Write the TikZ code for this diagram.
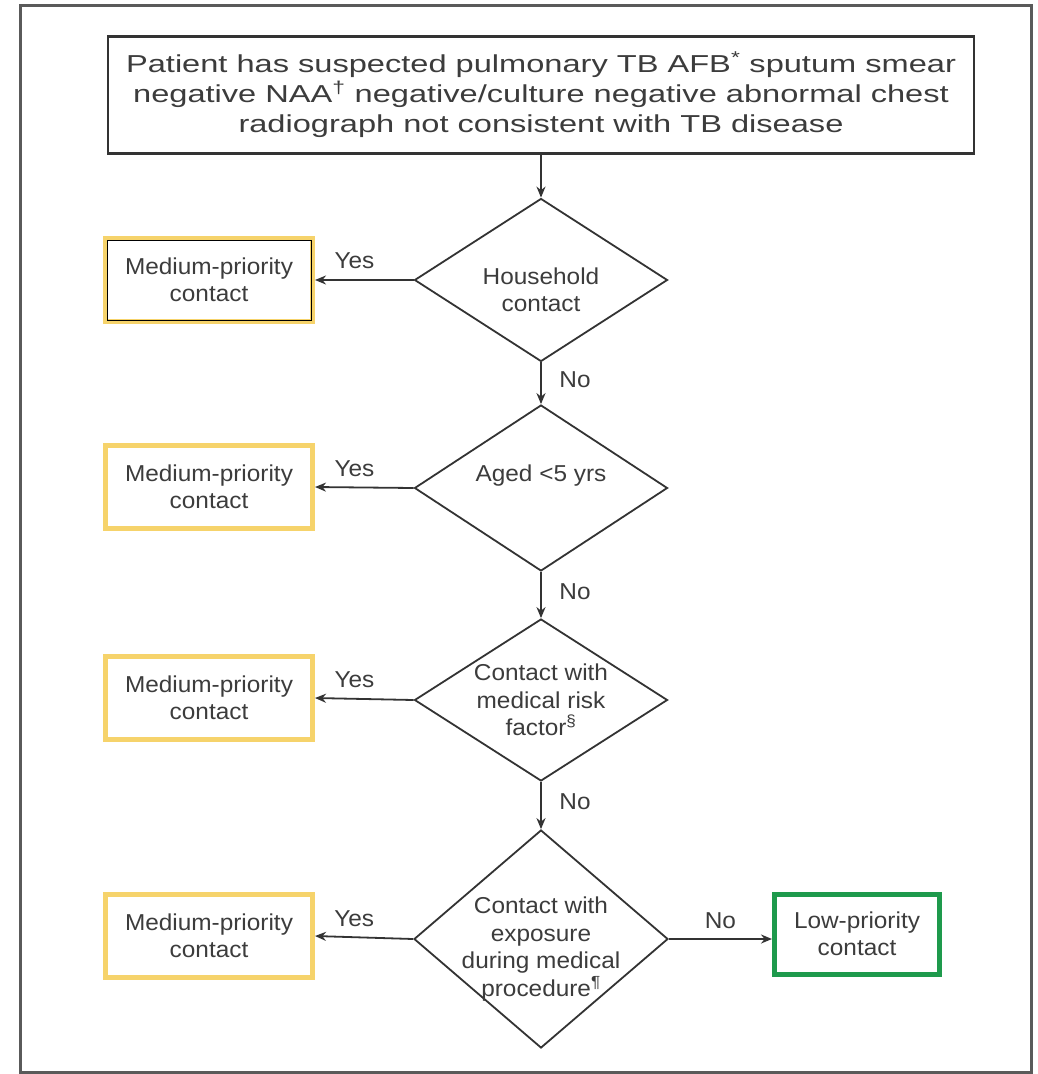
\documentclass[tikz,border=0pt]{standalone}
\usepackage{fontspec}
\setmainfont[FakeStretch=1.06]{Liberation Sans}
\newfontfamily\widefont[FakeStretch=1.33]{Liberation Sans}
\usetikzlibrary{shapes.geometric,arrows.meta}
\definecolor{ink}{HTML}{333333}
\definecolor{txt}{HTML}{3C3C3C}
\definecolor{gold}{HTML}{F6D36B}
\definecolor{grn}{HTML}{1E9A4C}
\definecolor{framec}{HTML}{5A5A5A}
\begin{document}
\begin{tikzpicture}[x=1pt,y=-1pt,
  font=\fontsize{23}{27.5}\selectfont,
  every node/.style={text=txt},
  topbox/.style={draw=ink, line width=2.5pt, fill=white, align=center, inner sep=0pt,
                 font=\widefont\fontsize{24.5}{30}\selectfont},
  dia/.style={diamond, draw=ink, line width=1.8pt, inner sep=0pt, aspect=1.5},
  dtext/.style={align=center, inner sep=0pt},
  medbox/.style={draw=gold, line width=5pt, fill=white, align=center, inner sep=0pt,
                 minimum width=207pt, minimum height=83pt},
  lowbox/.style={draw=grn, line width=5pt, fill=white, align=center, inner sep=0pt,
                 minimum width=165pt, minimum height=80pt},
  arr/.style={draw=ink, line width=1.8pt, -{Stealth[length=11pt,width=9pt]}},
  lab/.style={inner sep=0pt}
]
\useasboundingbox (0,0) rectangle (1038,1074);
\fill[white] (0,0) rectangle (1038,1074);
\draw[framec, line width=3pt] (20,5) rectangle (1031,1072);

% top box
\node[topbox, minimum width=866pt, minimum height=117pt] (top) at (541,95)
  {Patient has suspected pulmonary TB AFB\textsuperscript{*} sputum smear\\
   negative NAA\textsuperscript{†} negative/culture negative abnormal chest\\
   radiograph not consistent with TB disease};

% diamonds
\node[dia, minimum width=253pt, minimum height=163pt] (d1) at (541,280) {};
\node[dtext] (t1) at (541,290) {Household\\contact};
\node[dia, minimum width=253pt, minimum height=166pt] (d2) at (541,488) {};
\node[dtext] (t2) at (541,476) {Aged <5 yrs};
\node[dia, minimum width=253pt, minimum height=162pt] (d3) at (541,700) {};
\node[dtext] (t3) at (541,700) {Contact with\\medical risk\\factor\textsuperscript{§}};
\node[dia, minimum width=254pt, minimum height=218pt] (d4) at (541,939) {};
\node[dtext] (t4) at (541,949) {Contact with\\exposure\\during medical\\procedure\textsuperscript{¶}};

% outcome boxes
\node[medbox] (m1) at (209,280) {Medium-priority\\contact};
\draw[black, line width=0.9pt] ([xshift=4pt,yshift=-4pt]m1.north west) rectangle ([xshift=-4pt,yshift=4pt]m1.south east);
\node[medbox] (m2) at (209,487) {Medium-priority\\contact};
\node[medbox] (m3) at (209,698) {Medium-priority\\contact};
\node[medbox] (m4) at (209,936) {Medium-priority\\contact};
\node[lowbox] (low) at (857,934) {Low-priority\\contact};

% connectors
\draw[arr] (top.south) -- (d1.north);
\draw[arr] (d1.south) -- node[lab, pos=.42, xshift=34pt] {No} (d2.north);
\draw[arr] (d2.south) -- node[lab, pos=.42, xshift=34pt] {No} (d3.north);
\draw[arr] (d3.south) -- node[lab, pos=.42, xshift=34pt] {No} (d4.north);

\draw[arr] (d1.west) -- node[lab, pos=.6, yshift=19pt] {Yes} (m1.east);
\draw[arr] (d2.west) -- node[lab, pos=.6, yshift=19pt] {Yes} (m2.east);
\draw[arr] (d3.west) -- node[lab, pos=.6, yshift=19pt] {Yes} (m3.east);
\draw[arr] (d4.west) -- node[lab, pos=.6, yshift=19pt] {Yes} (m4.east);
\draw[arr] (d4.east) -- node[lab, pos=.5, yshift=18pt] {No} (low.west |- d4.east);
\end{tikzpicture}
\end{document}
